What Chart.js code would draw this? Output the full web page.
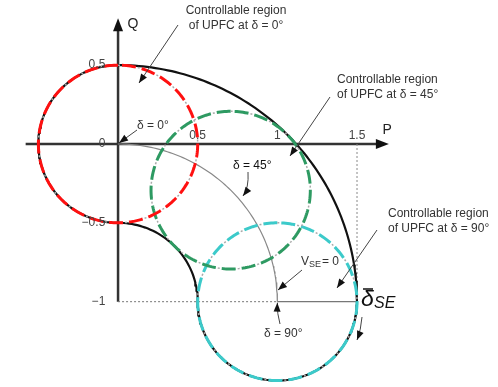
<!DOCTYPE html>
<html>
<head>
<meta charset="utf-8">
<script src="https://cdn.jsdelivr.net/npm/chart.js@4.4.0/dist/chart.umd.min.js"></script>
<style>
  html, body { margin: 0; padding: 0; background: #fff; }
  #wrap { width: 498px; height: 387px; }
</style>
</head>
<body>
<div id="wrap"><canvas id="upfcChart" width="498" height="387"></canvas></div>
<script>
// series voltage angle of each operating circle and its centre in the P-Q plane
const deltaDeg = [0, 45, 90];
const centerP = [0, 0.707, 1];
const centerQ = [0, -0.293, -1];
const vseMax = 0.5;   // radius of every controllable circle
const circleColors = ['#ff1010', '#2e9a62', '#3ccaca'];

const pTicks = [0.5, 1, 1.5];
const pTickLabels = ['0.5', '1', '1.5'];
const qTicks = [0.5, 0, -0.5, -1];
const qTickLabels = ['0.5', '0', '\u22120.5', '\u22121'];

// points along a circular arc, angles in degrees
function arc(cp, cq, r, a0, a1, n) {
    const pts = [];
    for (let i = 0; i <= n; i++) {
        const a = (a0 + (a1 - a0) * i / n) * Math.PI / 180;
        pts.push({ x: cp + r * Math.cos(a), y: cq + r * Math.sin(a) });
    }
    return pts;
}

// outer envelope of all the circles
const boundary = [].concat(
    arc(0, -1, 1 + vseMax, 90, 0, 90),
    arc(centerP[2], centerQ[2], vseMax, 0, -180, 90),
    arc(0, -1, 1 - vseMax, 0, 90, 45),
    arc(centerP[0], centerQ[0], vseMax, -90, -270, 90)
);

const lineSet = (data, color, width, dash, order) => ({
    data: data,
    showLine: true,
    borderColor: color,
    borderWidth: width,
    borderDash: dash || [],
    pointRadius: 0,
    fill: false,
    order: order
});

const datasets = [
    lineSet([{ x: -0.58, y: 0 }, { x: 1.66, y: 0 }], '#333', 2.5, null, 8),
    lineSet([{ x: 0, y: -1 }, { x: 0, y: 0.74 }], '#333', 2.5, null, 8),
    lineSet([{ x: 0, y: -1 }, { x: 1, y: -1 }], '#777', 1, [2, 2], 7),
    lineSet([{ x: 1, y: -1 }, { x: 1.5, y: -1 }], '#777', 1.2, null, 7),
    lineSet([{ x: 1.5, y: 0 }, { x: 1.5, y: -1 }], '#888', 1, [2, 2], 7),
    lineSet(arc(0, -1, 1, 90, 0, 90), '#888', 1.2, null, 6),
    lineSet(boundary, '#111', 2.2, null, 5)
];
deltaDeg.forEach((d, i) => {
    const pts = arc(centerP[i], centerQ[i], vseMax, 90, 450, 240);
    datasets.push(lineSet(pts, circleColors[i], 3, [14, 6], 3));
    datasets.push(lineSet(pts, '#aaa', 1.5, [0, 16, 2, 2], 2));
});

const labelFont = '12px "Liberation Sans", Arial, sans-serif';

function arrowHead(ctx, x0, y0, x1, y1, len, wid) {
    const a = Math.atan2(y1 - y0, x1 - x0);
    ctx.beginPath();
    ctx.moveTo(x1, y1);
    ctx.lineTo(x1 - len * Math.cos(a) + wid / 2 * Math.sin(a), y1 - len * Math.sin(a) - wid / 2 * Math.cos(a));
    ctx.lineTo(x1 - len * Math.cos(a) - wid / 2 * Math.sin(a), y1 - len * Math.sin(a) + wid / 2 * Math.cos(a));
    ctx.closePath();
    ctx.fill();
}

function arrow(ctx, x0, y0, x1, y1, cx, cy) {
    ctx.strokeStyle = '#444';
    ctx.fillStyle = '#111';
    ctx.lineWidth = 1;
    ctx.beginPath();
    ctx.moveTo(x0, y0);
    if (cx !== undefined) ctx.quadraticCurveTo(cx, cy, x1, y1);
    else ctx.lineTo(x1, y1);
    ctx.stroke();
    if (cx !== undefined) arrowHead(ctx, cx, cy, x1, y1, 9, 7);
    else arrowHead(ctx, x0, y0, x1, y1, 9, 7);
}

const annotations = {
    id: 'annotations',
    afterDatasetsDraw(chart) {
        const ctx = chart.ctx;
        const xs = chart.scales.x, ys = chart.scales.y;
        const px = p => xs.getPixelForValue(p);
        const py = q => ys.getPixelForValue(q);
        ctx.save();

        // axis arrow heads and names
        ctx.fillStyle = '#111';
        arrowHead(ctx, px(1.6), py(0), px(1.7), py(0), 13, 10);
        arrowHead(ctx, px(0), py(0.7), px(0), py(0.798), 13, 10);
        ctx.font = '14px "Liberation Sans", Arial, sans-serif';
        ctx.fillStyle = '#222';
        ctx.textBaseline = 'middle';
        ctx.textAlign = 'left';
        ctx.fillText('P', px(1.66), py(0.09));
        ctx.fillText('Q', px(0.06), py(0.76));

        // tick labels
        ctx.font = labelFont;
        ctx.fillStyle = '#444';
        ctx.textAlign = 'right';
        qTicks.forEach((q, i) => ctx.fillText(qTickLabels[i], px(-0.08), py(q)));
        ctx.textAlign = 'center';
        pTicks.forEach((p, i) => ctx.fillText(pTickLabels[i], px(p), py(0.05)));

        // region captions
        ctx.fillStyle = '#333';
        ctx.textAlign = 'center';
        ctx.fillText('Controllable region', 236, 11);
        ctx.fillText('of UPFC at \u03b4 = 0\u00b0', 236, 26);
        ctx.textAlign = 'left';
        ctx.fillText('Controllable region', 337, 80);
        ctx.fillText('of UPFC at \u03b4 = 45\u00b0', 337, 95);
        ctx.fillText('Controllable region', 388, 214);
        ctx.fillText('of UPFC at \u03b4 = 90\u00b0', 388, 229);
        arrow(ctx, 178, 25, 139, 83);
        arrow(ctx, 330, 97, 290, 156);
        arrow(ctx, 377, 230, 337, 288);

        // angle markers
        ctx.fillStyle = '#333';
        ctx.textAlign = 'left';
        ctx.fillText('\u03b4 = 0\u00b0', 137, 126);
        arrow(ctx, 137, 130, px(0) + 1, py(0) - 1);
        ctx.fillText('\u03b4 = 45\u00b0', 233, 166);
        arrow(ctx, 248, 172, 243, 196, 249, 188);
        ctx.fillStyle = '#333';
        ctx.fillText('\u03b4 = 90\u00b0', 264, 334);
        arrow(ctx, 280, 324, px(1), py(-1) + 1, 277, 314);

        // V_SE = 0 at the centre of the 90 degree circle
        ctx.fillStyle = '#333';
        ctx.fillText('V', 301, 262);
        ctx.font = '9px "Liberation Sans", Arial, sans-serif';
        ctx.fillText('SE', 309, 265);
        ctx.font = labelFont;
        ctx.fillText('= 0', 322, 262);
        arrow(ctx, 302, 270, 278, 290);

        // series voltage phase arrow
        ctx.fillStyle = '#111';
        ctx.font = 'italic 23px "Liberation Sans", Arial, sans-serif';
        ctx.fillText('\u03b4', 361, 300);
        ctx.font = 'italic 16px "Liberation Sans", Arial, sans-serif';
        ctx.fillText('SE', 374, 304);
        ctx.strokeStyle = '#111';
        ctx.lineWidth = 1.5;
        ctx.beginPath();
        ctx.moveTo(363, 289);
        ctx.lineTo(373, 289);
        ctx.stroke();
        arrow(ctx, 362, 317, 357, 340, 361, 330);

        ctx.restore();
    }
};

new Chart(document.getElementById('upfcChart'), {
    type: 'scatter',
    data: { datasets: datasets },
    options: {
        responsive: false,
        animation: false,
        events: [],
        layout: { padding: 0 },
        plugins: { legend: { display: false }, tooltip: { enabled: false } },
        scales: {
            x: { type: 'linear', min: -0.741, max: 2.385, display: false },
            y: { type: 'linear', min: -1.541, max: 0.913, display: false }
        }
    },
    plugins: [annotations]
});
</script>
</body>
</html>
